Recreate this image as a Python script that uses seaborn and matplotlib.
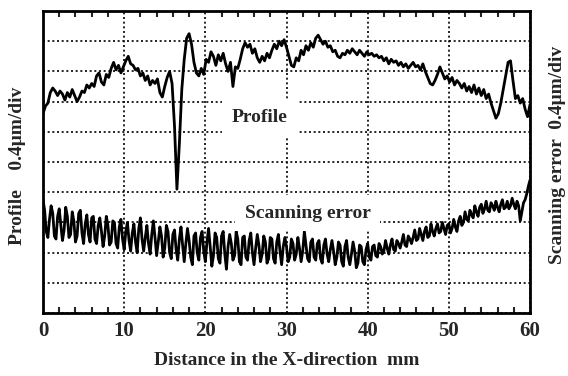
import numpy as np
import pandas as pd
import matplotlib
matplotlib.use("Agg")
import matplotlib.pyplot as plt
from matplotlib.ticker import MultipleLocator
import seaborn as sns

x_start, x_end = 0.0, 60.0
n_profile, n_scan = 201, 301

profile = [
    6.60, 6.85, 6.95, 7.30, 7.45, 7.35, 7.20, 7.35, 7.25, 7.05, 7.30, 7.15, 7.40, 7.20, 7.00, 7.15, 7.35,
    7.30, 7.55, 7.45, 7.60, 7.50, 7.85, 7.95, 7.65, 7.55, 7.90, 7.80, 8.10, 8.30, 8.05, 8.20, 7.95, 8.15,
    8.35, 8.50, 8.25, 8.20, 8.05, 8.10, 7.85, 7.95, 7.70, 7.85, 7.55, 7.70, 7.60, 7.75, 7.30, 7.15, 7.50,
    7.80, 8.00, 7.60, 6.20, 4.10, 5.60, 7.40, 8.40, 9.10, 9.25, 8.90, 8.30, 7.95, 7.85, 8.10, 7.90, 8.40,
    8.30, 8.65, 8.50, 8.20, 8.55, 8.35, 8.60, 8.25, 8.00, 8.30, 7.50, 8.15, 8.10, 8.40, 8.75, 8.95, 8.80,
    8.90, 8.60, 8.75, 8.45, 8.30, 8.50, 8.35, 8.60, 8.45, 8.70, 8.90, 8.75, 9.00, 8.85, 9.05, 8.80, 8.50,
    8.20, 8.15, 8.45, 8.35, 8.70, 8.55, 8.85, 8.70, 8.95, 8.80, 9.10, 9.20, 9.05, 8.90, 9.00, 8.80, 8.85,
    8.65, 8.70, 8.50, 8.45, 8.60, 8.55, 8.70, 8.60, 8.75, 8.65, 8.55, 8.70, 8.60, 8.50, 8.65, 8.55, 8.60,
    8.50, 8.55, 8.45, 8.50, 8.35, 8.45, 8.25, 8.40, 8.30, 8.35, 8.20, 8.30, 8.15, 8.25, 8.10, 8.20, 8.30,
    8.15, 8.20, 8.05, 8.25, 8.00, 7.80, 7.60, 7.55, 7.70, 7.90, 8.15, 7.95, 7.75, 7.85, 7.65, 7.80, 7.55,
    7.70, 7.60, 7.45, 7.60, 7.35, 7.50, 7.30, 7.55, 7.25, 7.45, 7.20, 7.40, 7.10, 7.25, 6.95, 6.70, 6.45,
    6.60, 6.95, 7.40, 7.85, 8.30, 8.35, 7.70, 7.10, 7.20, 6.95, 7.10, 6.75, 6.50, 6.90,
]

scanning_error = [
    # 0-10 mm
    3.75, 3.40, 2.70, 2.50, 3.10, 3.55, 3.30, 2.55, 2.45, 3.20,
    3.45, 2.90, 2.40, 2.75, 3.50, 3.20, 2.50, 2.60, 3.35, 3.05,
    2.35, 2.55, 3.30, 3.40, 2.65, 2.30, 2.95, 3.25, 2.60, 2.35,
    3.15, 3.20, 2.45, 2.30, 2.90, 3.15, 2.70, 2.20, 2.55, 3.20,
    2.90, 2.25, 2.35, 3.05, 3.00, 2.30, 2.15, 2.85, 3.10, 2.45,
    # 10-20 mm
    2.10, 2.70, 3.00, 2.40, 2.05, 2.65, 2.95, 2.35, 2.00, 2.80,
    3.15, 2.45, 2.05, 2.50, 2.90, 2.30, 1.95, 2.60, 3.05, 2.50,
    1.90, 2.35, 2.85, 2.55, 1.85, 2.15, 2.90, 2.70, 2.00, 1.80,
    2.60, 2.75, 2.10, 1.75, 2.45, 2.85, 2.25, 1.70, 2.30, 2.80,
    2.40, 1.85, 1.60, 2.55, 2.65, 2.00, 1.75, 2.50, 2.70, 2.05,
    # 20-30 mm
    1.70, 2.35, 2.80, 2.20, 1.55, 1.90, 2.65, 2.50, 1.80, 1.65,
    2.55, 2.70, 1.95, 1.45, 2.20, 2.60, 2.30, 1.75, 1.90, 2.70,
    2.45, 1.70, 1.60, 2.50, 2.55, 1.85, 1.75, 2.40, 2.65, 2.00,
    1.60, 2.15, 2.60, 2.25, 1.70, 1.95, 2.55, 2.35, 1.65, 1.80,
    2.50, 2.45, 1.80, 1.65, 2.35, 2.60, 2.05, 1.60, 2.20, 2.50,
    # 30-40 mm
    2.20, 1.70, 1.85, 2.45, 2.30, 1.75, 1.95, 2.50, 2.15, 1.70,
    2.05, 2.70, 2.25, 1.80, 1.70, 2.35, 2.45, 1.85, 1.75, 2.30,
    2.40, 1.80, 1.65, 2.25, 2.45, 1.95, 1.70, 2.10, 2.40, 2.05,
    1.60, 1.85, 2.35, 2.25, 1.70, 1.55, 2.20, 2.40, 1.85, 1.60,
    1.95, 2.35, 2.05, 1.50, 1.65, 2.25, 2.20, 1.70, 1.60, 2.10,
    # 40-50 mm
    2.30, 1.85, 1.75, 2.20, 2.25, 1.90, 1.85, 2.30, 2.20, 1.95,
    2.05, 2.40, 2.15, 1.95, 2.25, 2.45, 2.10, 2.05, 2.40, 2.30,
    2.15, 2.35, 2.60, 2.25, 2.20, 2.55, 2.45, 2.30, 2.50, 2.75,
    2.40, 2.45, 2.80, 2.60, 2.40, 2.70, 2.85, 2.50, 2.55, 2.95,
    2.70, 2.55, 2.80, 2.95, 2.65, 2.70, 3.00, 2.80, 2.60, 2.90,
    # 50-60 mm
    2.95, 2.65, 2.80, 3.10, 2.85, 2.70, 3.05, 3.20, 2.90, 3.00,
    3.35, 3.10, 3.05, 3.40, 3.25, 3.15, 3.55, 3.35, 3.20, 3.50,
    3.60, 3.30, 3.45, 3.70, 3.40, 3.35, 3.65, 3.55, 3.40, 3.70,
    3.50, 3.35, 3.60, 3.75, 3.45, 3.50, 3.70, 3.45, 3.55, 3.80,
    3.60, 3.45, 3.70, 3.55, 3.05, 3.35, 3.65, 3.75, 3.95, 4.20, 4.40,
]

x_ticks = [0, 10, 20, 30, 40, 50, 60]
x_label = "Distance in the X-direction  mm"
y_label_left = "Profile    0.4\u03bcm/div"
y_label_right = "Scanning error  0.4\u03bcm/div"

x_profile = np.linspace(x_start, x_end, n_profile)
x_scan = np.linspace(x_start, x_end, n_scan)
df = pd.DataFrame({
    "x": np.concatenate([x_profile, x_scan]),
    "y": profile + scanning_error,
    "series": ["Profile"] * len(profile) + ["Scanning error"] * len(scanning_error),
})

sns.set_style("white")
plt.rcParams["font.family"] = ["Liberation Serif", "DejaVu Serif"]
plt.rcParams["font.weight"] = "bold"

fig = plt.figure(figsize=(5.68, 3.76), dpi=100)
ax = fig.add_axes([43 / 568, 63 / 376, 487 / 568, 302 / 376])

sns.lineplot(data=df, x="x", y="y", units="series", estimator=None,
             color="black", linewidth=2.0, ax=ax, legend=False)

ax.set_xlim(0, 60)
ax.set_ylim(0, 10)
ax.set_xticks(x_ticks)
ax.set_xticklabels([str(t) for t in x_ticks], fontsize=15, fontweight="bold")
ax.xaxis.set_minor_locator(MultipleLocator(2))
ax.set_yticks(range(0, 11))
ax.set_yticklabels([])
ax.tick_params(axis="x", which="both", direction="in", top=True, bottom=True,
               length=4, width=1.5, pad=6)
ax.tick_params(axis="x", which="major", length=0)
ax.tick_params(axis="y", which="both", length=0)

ax.grid(True, which="major", color="black", linestyle=(0, (1.2, 1.6)), linewidth=1.2)
for s in ax.spines.values():
    s.set_linewidth(2.0)
    s.set_color("black")

ax.set_xlabel(x_label, fontsize=14, fontweight="bold", labelpad=8)
ax.set_ylabel("")

fig.text(18 / 568, 1 - 166 / 376, y_label_left, rotation=90, fontsize=14,
         fontweight="bold", ha="center", va="center")
fig.text(557 / 568, 1 - 155 / 376, y_label_right, rotation=90, fontsize=14,
         fontweight="bold", ha="center", va="center")

ax.text(26.7, 6.46, "Profile", fontsize=14, fontweight="bold", ha="center", va="center",
        bbox=dict(facecolor="white", edgecolor="none", pad=7), zorder=5)
ax.text(32.6, 3.31, "Scanning error", fontsize=14, fontweight="bold", ha="center", va="center",
        bbox=dict(facecolor="white", edgecolor="none", pad=7), zorder=5)

fig.savefig("out.png", dpi=100)
